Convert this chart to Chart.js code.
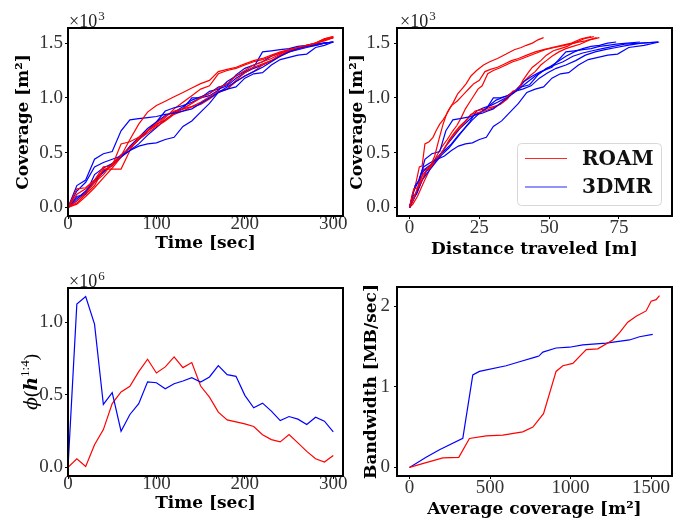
<!DOCTYPE html>
<html><head><meta charset="utf-8">
<script src="https://cdn.jsdelivr.net/npm/chart.js@4.4.0/dist/chart.umd.min.js"></script>
<style>
 body{margin:0;background:#fff;}
 #wrap{position:relative;width:683px;height:521px;}
 #wrap canvas{position:absolute;left:0;top:0;}
</style></head><body>
<div id="wrap">
<canvas id="cov" width="683" height="521"></canvas>
<canvas id="dist" width="683" height="521"></canvas>
<canvas id="phi" width="683" height="521"></canvas>
<canvas id="bw" width="683" height="521"></canvas>
</div>
<script>
// sample times (sec)
const times = [0,10,20,30,40,50,60,70,80,90,100,110,120,130,140,150,160,170,180,190,200,210,220,230,240,250,260,270,280,290,300];

// coverage per run [m^2], one row per run
const roamCoverage = [
  [0,170,180,250,340,380,470,620,760,870,930,970,1010,1050,1090,1130,1160,1240,1260,1280,1310,1340,1360,1390,1420,1440,1460,1480,1500,1540,1560],
  [0,120,170,250,370,380,580,600,640,700,760,800,860,900,950,1000,1040,1090,1130,1200,1250,1300,1330,1360,1400,1440,1460,1480,1500,1530,1550],
  [0,60,130,230,300,400,480,540,620,680,740,790,850,880,920,960,1010,1060,1080,1160,1230,1280,1310,1340,1390,1430,1450,1470,1500,1520,1550],
  [0,40,120,200,350,350,350,520,640,700,770,830,880,900,920,940,990,1050,1080,1150,1200,1240,1300,1340,1380,1420,1450,1470,1490,1530,1550],
  [0,30,100,180,270,360,460,550,620,700,750,820,900,960,1020,1080,1110,1220,1250,1270,1300,1330,1350,1380,1410,1440,1460,1480,1500,1540,1560]
];
const dmrCoverage = [
  [0,200,250,440,490,510,700,800,810,820,830,850,860,880,900,950,1000,1050,1100,1150,1200,1240,1280,1330,1380,1420,1450,1470,1480,1500,1510],
  [0,150,230,370,410,440,470,520,560,580,590,620,640,740,790,870,950,1050,1080,1100,1180,1220,1230,1300,1350,1370,1390,1400,1460,1480,1510],
  [0,100,120,300,360,400,460,520,580,660,730,800,860,900,1000,1000,1020,1070,1150,1200,1240,1280,1420,1430,1440,1450,1470,1480,1490,1500,1510],
  [0,80,150,250,320,400,480,540,620,700,780,880,910,930,960,1000,1060,1080,1110,1180,1230,1270,1300,1340,1390,1420,1440,1460,1480,1500,1510],
  [0,60,140,230,330,380,460,560,640,720,780,840,870,920,980,1010,1040,1100,1120,1210,1270,1300,1330,1380,1410,1430,1450,1470,1490,1500,1510]
];

// distance traveled per run [m]
const roamDistance = [
  [0,1.5,3,4.5,6,7.5,9,10.5,12,13.5,15,17,18.5,20,21.5,23,25,27,29,31.5,34,36.5,39,42,45,48,51,54.5,58,61.5,65],
  [0,1,1.8,2.5,3.5,4.5,5.5,7,8.4,9.5,10.8,12,13.5,14.3,15.5,16.5,17.3,19,20.3,22,24,26.5,28.7,31.5,34.6,37.5,40,41.8,44,46,48],
  [0,1,2.2,3.5,4.8,8,11,12.5,14.3,16,17.9,20,22,27,31,33,35,37,39,40.6,42.5,44,45.5,47,49,51.5,54,56.5,58.5,63,67],
  [0,0.8,2,3.5,5,6,7,12,15,17,19.5,21.5,23.5,27,30,32.5,35,37,39,41,43,45,47,49,51,53.5,56,58.5,61,64.5,68],
  [0,1.2,2.8,4.2,5.8,7.5,9.5,11.5,13.5,15.5,17,18.5,20,21.5,23,24.5,26,28,30,32,34.5,37,39.5,42.5,45.5,48.5,52,55.5,59,62.5,66]
];
const dmrDistance = [
  [0,2,3.5,5.5,8,10.8,13,15.5,18,20,22,24,26,28,30,32.5,35,37.5,40,42.5,45,47.5,50,53,56,59,62,65,68,71,74],
  [0,1.5,3,5,7.5,10,12.5,15,17.5,20,22.5,25,27.5,30,33,36,39,42,45,48,51,54,57,60.5,64,67.5,71,74.5,78.5,84,89.4],
  [0,1,2.5,4,6,8,10,12.5,15,17.5,20,22.5,25,27.5,30,32.5,35,38,41,44,47,51,56,59,62,65,68,71,74,78,82.5],
  [0,1.5,3,4.5,6.5,9,11.5,14,16.5,19,21.5,24,26.5,29,31.5,34.5,37.5,40.5,43.5,46.5,49.5,52.5,56,59.5,63,66.5,70,74,78,83,89],
  [0,1.2,2.6,4.2,6,8,10.5,13,15.5,18,20.5,23,25.5,28,31,34,37,40,43,46,49,52,55,58.5,62,65.5,69,73,77,83,89]
];

// phi(h^{1:4}) in units of 1e6
const phiRoam = [0,0.06,0.007,0.157,0.261,0.44,0.52,0.559,0.66,0.746,0.651,0.693,0.762,0.688,0.723,0.561,0.485,0.381,0.328,0.314,0.30,0.282,0.226,0.192,0.176,0.226,0.169,0.111,0.06,0.037,0.083];
const phiDmr  = [0,1.127,1.178,0.988,0.434,0.515,0.25,0.365,0.44,0.59,0.584,0.543,0.577,0.596,0.619,0.589,0.624,0.702,0.64,0.628,0.497,0.411,0.443,0.388,0.323,0.351,0.333,0.296,0.346,0.319,0.245];

// bandwidth vs average coverage
const bwRoamCov = [0,103,207,306,372,476,579,703,766,832,910,952,1014,1097,1169,1262,1304,1355,1407,1469,1500,1531,1552];
const bwRoam    = [0,0.06,0.117,0.125,0.358,0.39,0.40,0.44,0.5,0.667,1.19,1.26,1.29,1.46,1.47,1.58,1.67,1.8,1.875,1.94,2.06,2.08,2.13];
const bwDmrCov  = [0,103,186,331,393,434,600,683,786,803,828,910,993,1076,1221,1366,1428,1510];
const bwDmr     = [0,0.125,0.22,0.36,1.146,1.19,1.26,1.31,1.37,1.38,1.43,1.48,1.49,1.52,1.54,1.58,1.62,1.65];

const timeTicks = [0,100,200,300];
const covTicks = [0,500,1000,1500];
const distTicks = [0,25,50,75];
const phiTicks = [0,0.5,1.0];
const avgCovTicks = [0,500,1000,1500];
const bwTicks = [0,1,2];
const seriesNames = ['ROAM','3DMR'];

const RED = '#ff0000', BLUE = '#0000ff';
const tickFont = {family:'Liberation Serif', size:19, lineHeight:0.5};
const titleFont = {family:'DejaVu Serif', size:17, weight:'bold'};
const XH = 44;

function pts(xs, ys){ return xs.map((x,i)=>({x:x, y:ys[i]})); }
function line(data, color){ return {data:data, borderColor:color, borderWidth:1.2, pointRadius:0, fill:false, tension:0}; }

const framePlugin = {
  id:'frame',
  afterDatasetsDraw(chart){
    const c = chart.ctx, a = chart.chartArea;
    c.save(); c.strokeStyle = '#000'; c.lineWidth = 2;
    c.strokeRect(a.left, a.top, a.right-a.left, a.bottom-a.top);
    c.restore();
  }
};

function offsetLabel(dx, exp){
  return {
    id:'offset',
    afterDraw(chart){
      const c = chart.ctx, a = chart.chartArea;
      c.save(); c.fillStyle = '#222'; c.textBaseline = 'alphabetic';
      c.font = '18px "Liberation Serif"';
      c.fillText('\u00d710', a.left+dx, a.top-1);
      const w = c.measureText('\u00d710').width;
      c.font = '13px "Liberation Serif"';
      c.fillText(exp, a.left+dx+w+1, a.top-8);
      c.restore();
    }
  };
}

function makeChart(id, o){
  const f = o.frame, yw = o.yw;
  return new Chart(document.getElementById(id), {
    type:'line',
    data:{datasets:o.datasets},
    plugins:[framePlugin].concat(o.plugins || []),
    options:{
      responsive:false, animation:false, events:[],
      layout:{padding:{left:f[0]-yw, top:f[1], right:683-f[2], bottom:521-f[3]-XH}},
      plugins:{legend:{display:false}, tooltip:{enabled:false}},
      scales:{
        x:{type:'linear', min:o.xMin, max:o.xMax, bounds:'data',
          afterFit:s=>{s.height = XH;},
          afterBuildTicks:s=>{s.ticks = o.xTicks.map(v=>({value:v}));},
          grid:{display:true, drawOnChartArea:false, drawTicks:true, tickLength:3, color:'#000', tickColor:'#000', lineWidth:1},
          border:{display:false},
          ticks:{font:tickFont, color:'#333', padding:o.xTickPad, maxRotation:0, autoSkip:false, callback:o.xFmt},
          title:{display:true, text:o.xTitle, font:titleFont, color:'#000', padding:{top:0, bottom:o.xTitlePad}}},
        y:{type:'linear', min:o.yMin, max:o.yMax, bounds:'data',
          afterFit:s=>{s.width = yw;},
          afterBuildTicks:s=>{s.ticks = o.yTicks.map(v=>({value:v}));},
          grid:{display:true, drawOnChartArea:false, drawTicks:true, tickLength:3, color:'#000', tickColor:'#000', lineWidth:1},
          border:{display:false},
          ticks:{font:tickFont, color:'#333', padding:o.yTickPad, autoSkip:false, callback:o.yFmt},
          title:{display:!!o.yTitle, text:o.yTitle || '', font:titleFont, color:'#000', padding:{top:o.yTitlePad, bottom:0}}}
      }
    }
  });
}

const fmtInt = v => String(v);
const fmtK = v => (v/1000).toFixed(1);
const fmt1 = v => v.toFixed(1);

// interleave runs ROAM / 3DMR
function runs(xsR, xsD){
  const ds = [];
  for (let i = 0; i < roamCoverage.length; i++) {
    ds.push(line(pts(xsR(i), roamCoverage[i]), RED));
    ds.push(line(pts(xsD(i), dmrCoverage[i]), BLUE));
  }
  return ds;
}

makeChart('cov', {
  frame:[68,28,343,216], yw:68,
  datasets: runs(()=>times, ()=>times),
  xMin:0, xMax:311, yMin:-78, yMax:1638,
  xTicks:timeTicks, yTicks:covTicks, xFmt:fmtInt, yFmt:fmtK,
  xTitle:'Time [sec]', yTitle:'Coverage [m\u00b2]',
  xTickPad:0, yTickPad:2, xTitlePad:6, yTitlePad:13,
  plugins:[offsetLabel(1,'3')]
});

const legendPlugin = {
  id:'legendBox',
  afterDatasetsDraw(chart){
    const c = chart.ctx, a = chart.chartArea;
    const bx = a.right-155, by = a.bottom-73, bw = 144, bh = 62;
    c.save();
    c.fillStyle = 'rgba(255,255,255,0.8)'; c.strokeStyle = '#d8d8d8'; c.lineWidth = 1;
    c.beginPath(); c.roundRect(bx+0.5, by+0.5, bw, bh, 4); c.fill(); c.stroke();
    const colors = ['rgb(255,40,40)', 'rgb(110,110,255)'];
    const widths = [1.2, 1.6];
    seriesNames.forEach((name, i) => {
      const y = by + 15.5 + i*28.5;
      c.strokeStyle = colors[i]; c.lineWidth = widths[i];
      c.beginPath(); c.moveTo(bx+8, y); c.lineTo(bx+50, y); c.stroke();
      c.font = 'bold 20px "DejaVu Serif"'; c.textBaseline = 'middle'; c.fillStyle = '#111';
      c.fillText(name, bx+65, y+1);
    });
    c.restore();
  }
};

makeChart('dist', {
  frame:[397,28,672,216], yw:57,
  datasets: runs(i=>roamDistance[i], i=>dmrDistance[i]),
  xMin:-4.5, xMax:94, yMin:-78, yMax:1638,
  xTicks:distTicks, yTicks:covTicks, xFmt:fmtInt, yFmt:fmtK,
  xTitle:'Distance traveled [m]', yTitle:'Coverage [m\u00b2]',
  xTickPad:4, yTickPad:4, xTitlePad:0, yTitlePad:7,
  plugins:[offsetLabel(3,'3'), legendPlugin]
});

const phiLabel = {
  id:'phiLabel',
  afterDraw(chart){
    const c = chart.ctx;
    c.save();
    c.translate(31, 382); c.rotate(-Math.PI/2);
    c.fillStyle = '#000'; c.textBaseline = 'alphabetic';
    const parts = [
      ['italic 19px "DejaVu Serif"', '\u03d5', 0],
      ['19px "Liberation Serif"', '(', 0],
      ['italic bold 19px "DejaVu Serif"', 'h', 0],
      ['13px "Liberation Serif"', '1:4', -8],
      ['19px "Liberation Serif"', ')', 0]
    ];
    let total = 0;
    parts.forEach(p => { c.font = p[0]; total += c.measureText(p[1]).width; });
    let x = -total/2;
    parts.forEach(p => { c.font = p[0]; c.fillText(p[1], x, 6 + p[2]); x += c.measureText(p[1]).width; });
    c.restore();
  }
};

makeChart('phi', {
  frame:[68,288,343,476], yw:68,
  datasets:[line(pts(times, phiDmr), BLUE), line(pts(times, phiRoam), RED)],
  xMin:0, xMax:311, yMin:-0.059, yMax:1.237,
  xTicks:timeTicks, yTicks:phiTicks, xFmt:fmtInt, yFmt:fmt1,
  xTitle:'Time [sec]', yTitle:null,
  xTickPad:0, yTickPad:2, xTitlePad:6, yTitlePad:0,
  plugins:[offsetLabel(1,'6'), phiLabel]
});

makeChart('bw', {
  frame:[397,287,672,476], yw:57,
  datasets:[line(pts(bwRoamCov, bwRoam), RED), line(pts(bwDmrCov, bwDmr), BLUE)],
  xMin:-77.6, xMax:1629.6, yMin:-0.1065, yMax:2.2365,
  xTicks:avgCovTicks, yTicks:bwTicks, xFmt:fmtInt, yFmt:fmtInt,
  xTitle:'Average coverage [m\u00b2]', yTitle:'Bandwidth [MB/sec]',
  xTickPad:4, yTickPad:4, xTitlePad:0, yTitlePad:21
});
</script>
</body></html>
